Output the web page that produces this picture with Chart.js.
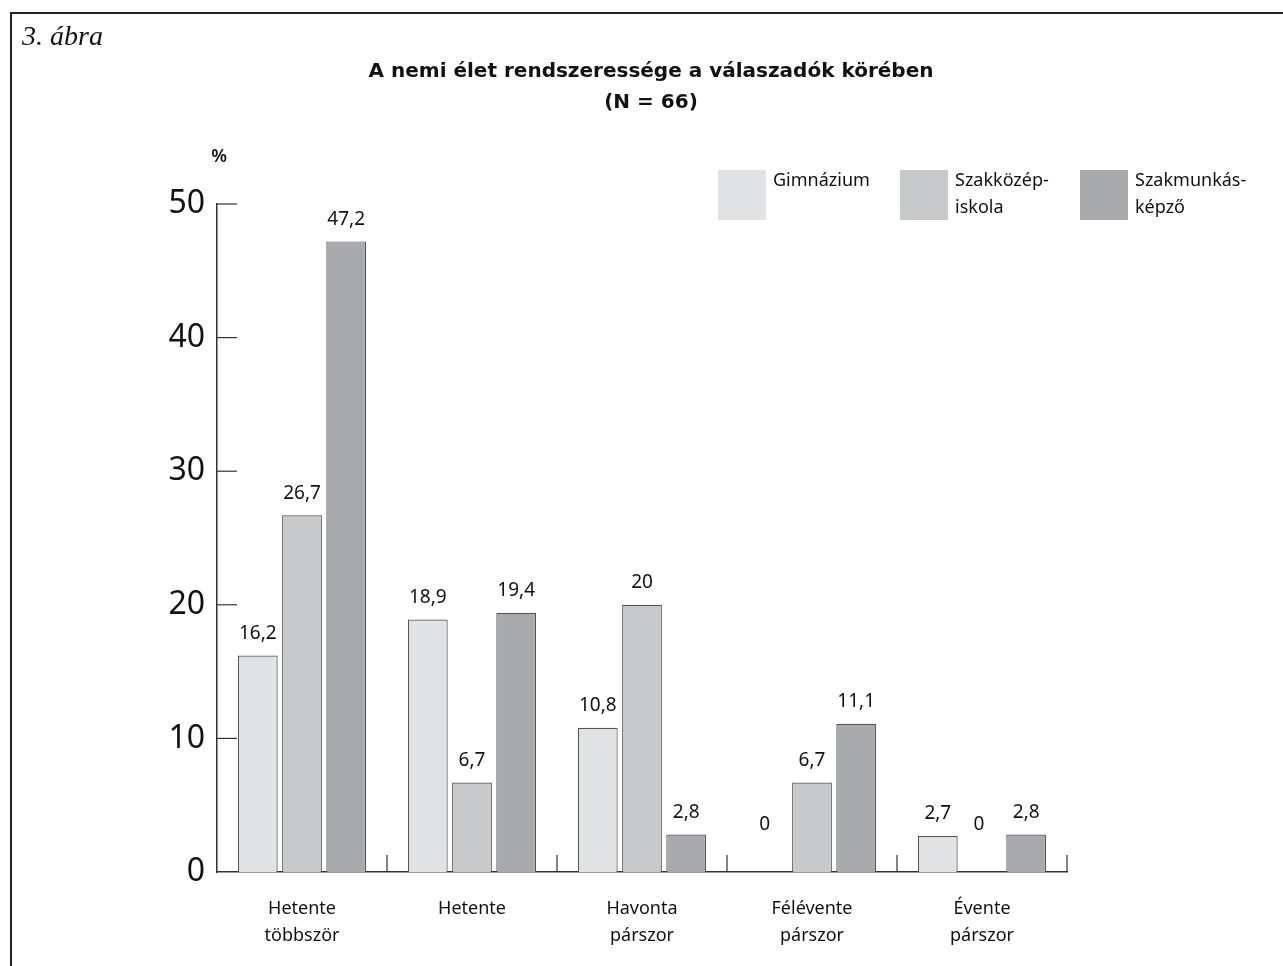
<!DOCTYPE html>
<html lang="hu">
<head>
<meta charset="utf-8">
<title>A nemi élet rendszeressége a válaszadók körében</title>
<script src="https://cdn.jsdelivr.net/npm/chart.js@4.4.1/dist/chart.umd.min.js"></script>
<style>
  html, body { margin: 0; padding: 0; background: #fff; }
  #wrap { position: relative; width: 1283px; height: 966px; overflow: hidden; }
  #frame { position: absolute; left: 10px; top: 12px; width: 1400px; height: 1100px;
           border-left: 2px solid #222; border-top: 2px solid #222; }
  canvas { position: absolute; left: 0; top: 0; }
</style>
</head>
<body>
<div id="wrap">
  <div id="frame"></div>
  <canvas id="chart" width="1283" height="966"></canvas>
</div>
<script>
// adatok
const categories = [["Hetente", "többször"], ["Hetente"], ["Havonta", "párszor"], ["Félévente", "párszor"], ["Évente", "párszor"]];
const seriesNames = ["Gimnázium", "Szakközép-iskola", "Szakmunkásképző"];
const legendLines = [["Gimnázium"], ["Szakközép-", "iskola"], ["Szakmunkás-", "képző"]];
const gimnazium = [16.2, 18.9, 10.8, 0, 2.7];
const szakkozep = [26.7, 6.7, 20, 6.7, 0];
const szakmunkas = [47.2, 19.4, 2.8, 11.1, 2.8];
const yTicks = [0, 10, 20, 30, 40, 50];
const titleLines = ["A nemi élet rendszeressége a válaszadók körében", "(N = 66)"];

const colors = ["#e1e2e4", "#c8c9cb", "#a9aaae"];
const FONT = "'Noto Sans', 'DejaVu Sans', sans-serif";

// szöveg, jelmagyarázat, tengely-jelölők rajzolása
const decorPlugin = {
    id: "decor",
    afterDraw(chart) {
        const ctx = chart.ctx;
        const yScale = chart.scales.y;
        const xScale = chart.scales.x;
        ctx.save();

        // ábra felirat
        ctx.fillStyle = "#111";
        ctx.font = "italic 28px 'Liberation Serif', serif";
        ctx.textAlign = "left";
        ctx.textBaseline = "alphabetic";
        ctx.fillText("3. ábra", 22, 45);

        // cím
        ctx.font = "bold 20px 'DejaVu Sans', sans-serif";
        ctx.textAlign = "center";
        ctx.textBaseline = "middle";
        titleLines.forEach((t, i) => ctx.fillText(t, 651, 72 + i * 31));

        // % jel
        ctx.font = "600 18px " + FONT;
        ctx.fillText("%", 219, 157);

        // y tengely jelölők (befelé)
        ctx.strokeStyle = "#333";
        ctx.lineWidth = 1.2;
        yTicks.forEach(v => {
            if (v === 0) return;
            const y = yScale.getPixelForValue(v);
            ctx.beginPath();
            ctx.moveTo(xScale.left, y);
            ctx.lineTo(xScale.left + 20, y);
            ctx.stroke();
        });

        // x tengely elválasztók (felfelé)
        const half = (xScale.getPixelForValue(1) - xScale.getPixelForValue(0)) / 2;
        for (let i = 0; i < categories.length; i++) {
            const x = xScale.getPixelForValue(i) + half;
            ctx.beginPath();
            ctx.moveTo(x, yScale.bottom);
            ctx.lineTo(x, yScale.bottom - 17);
            ctx.stroke();
        }

        // értékcímkék
        ctx.fillStyle = "#111";
        ctx.font = "19px " + FONT;
        ctx.textAlign = "center";
        ctx.textBaseline = "middle";
        chart.data.datasets.forEach((ds, di) => {
            chart.getDatasetMeta(di).data.forEach((bar, i) => {
                const v = ds.data[i];
                const txt = String(v).replace(".", ",");
                const y = v === 0 ? bar.y - 47 : bar.y - 22;
                ctx.fillText(txt, v === 0 ? bar.x - 3 : bar.x, y);
            });
        });

        // jelmagyarázat
        const legendX = [718, 900, 1080];
        ctx.font = "18px " + FONT;
        ctx.textAlign = "left";
        legendLines.forEach((lines, i) => {
            ctx.fillStyle = colors[i];
            ctx.fillRect(legendX[i], 170, 48, 50);
            ctx.fillStyle = "#111";
            lines.forEach((l, j) => ctx.fillText(l, legendX[i] + 55, 181 + j * 27));
        });
        ctx.restore();
    }
};

const ctx = document.getElementById("chart").getContext("2d");
new Chart(ctx, {
    type: "bar",
    data: {
        labels: categories,
        datasets: [
            { label: seriesNames[0], data: gimnazium, backgroundColor: colors[0] },
            { label: seriesNames[1], data: szakkozep, backgroundColor: colors[1] },
            { label: seriesNames[2], data: szakmunkas, backgroundColor: colors[2] }
        ].map(d => Object.assign(d, { borderColor: "#555", borderWidth: 1.2, borderSkipped: "bottom",
            categoryPercentage: 0.78, barPercentage: 0.9 }))
    },
    options: {
        responsive: false, animation: false,
        layout: { padding: { left: 0, top: 204, right: 216, bottom: 0 } },
        plugins: { legend: { display: false }, tooltip: { enabled: false } },
        scales: {
            x: {
                grid: { display: false },
                border: { display: true, color: "#333", width: 1.5 },
                ticks: { color: "#111", font: { family: FONT, size: 18, lineHeight: 1.5 }, padding: 15, maxRotation: 0 },
                afterFit: s => { s.height = 94; }
            },
            y: {
                min: 0, max: 50,
                afterBuildTicks: s => { s.ticks = yTicks.map(v => ({ value: v })); },
                grid: { display: false, drawTicks: false },
                border: { display: true, color: "#333", width: 1.5 },
                ticks: { color: "#111", font: { family: FONT, size: 32 }, padding: 12 },
                afterFit: s => { s.width = 217; }
            }
        }
    },
    plugins: [decorPlugin]
});
</script>
</body>
</html>
